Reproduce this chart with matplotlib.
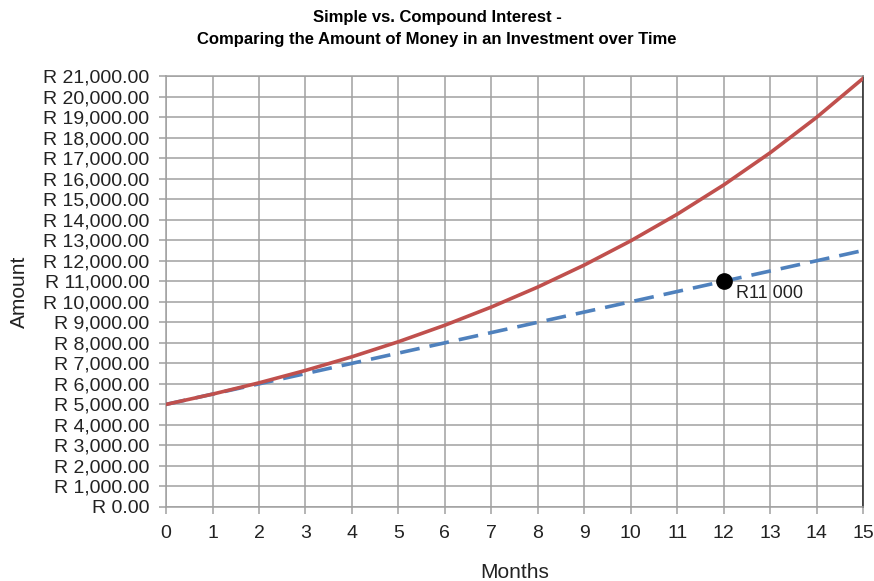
import matplotlib.pyplot as plt
from matplotlib.ticker import FuncFormatter, MultipleLocator

# data
months = [0, 1, 2, 3, 4, 5, 6, 7, 8, 9, 10, 11, 12, 13, 14, 15]
simple = [5000, 5500, 6000, 6500, 7000, 7500, 8000, 8500, 9000, 9500,
          10000, 10500, 11000, 11500, 12000, 12500]
compound = [5000, 5500, 6050, 6655, 7320, 8053, 8858, 9744, 10718, 11790,
            12969, 14266, 15692, 17261, 18987, 20886]
marker_month = 12
marker_value = 11000
marker_label = "R11 000"

plt.rcParams['font.family'] = ['Liberation Sans', 'DejaVu Sans']

fig = plt.figure(figsize=(8.74, 5.81), dpi=100)
ax = fig.add_axes([0.190, 0.1274, 0.7974, 0.7416])

ax.plot(months, simple, color="#4F81BD", lw=2.6, dashes=(5.5, 2.8), zorder=3)
ax.plot(months, compound, color="#C0504D", lw=2.6, zorder=4)
ax.plot(marker_month, marker_value, "o", color="black", ms=11, zorder=5)
ax.annotate(marker_label, (marker_month, marker_value), xytext=(9, -9),
            textcoords="offset points", fontsize=13, color="#222222",
            ha="left", va="center")

ax.set_xlim(0, 15)
ax.set_ylim(0, 21000)
ax.xaxis.set_major_locator(MultipleLocator(1))
ax.yaxis.set_major_locator(MultipleLocator(1000))
ax.yaxis.set_major_formatter(FuncFormatter(lambda v, p: "R {:,.2f}".format(v)))

ax.grid(True, color="#a0a0a0", lw=1.1)
ax.set_axisbelow(True)
for s in ["left", "bottom", "top"]:
    ax.spines[s].set_color("#a0a0a0")
    ax.spines[s].set_linewidth(1.1)
ax.spines["right"].set_color("#222222")
ax.spines["right"].set_linewidth(1.1)
ax.tick_params(axis="both", colors="#a0a0a0", length=5, width=1.1,
               labelcolor="#222222", labelsize=14)
ax.tick_params(axis="x", pad=8)
ax.tick_params(axis="y", pad=7)

ax.set_xlabel("Months", fontsize=15, color="#222222", labelpad=15)
ax.set_ylabel("Amount", fontsize=15, color="#222222", labelpad=10)

fig.suptitle("Simple vs. Compound Interest -\nComparing the Amount of Money in an Investment over Time",
             fontsize=12, fontweight="bold", y=0.982, linespacing=1.55,
             family=["Liberation Sans Narrow", "Liberation Sans", "DejaVu Sans"])

plt.savefig("out.png")
plt.close()
